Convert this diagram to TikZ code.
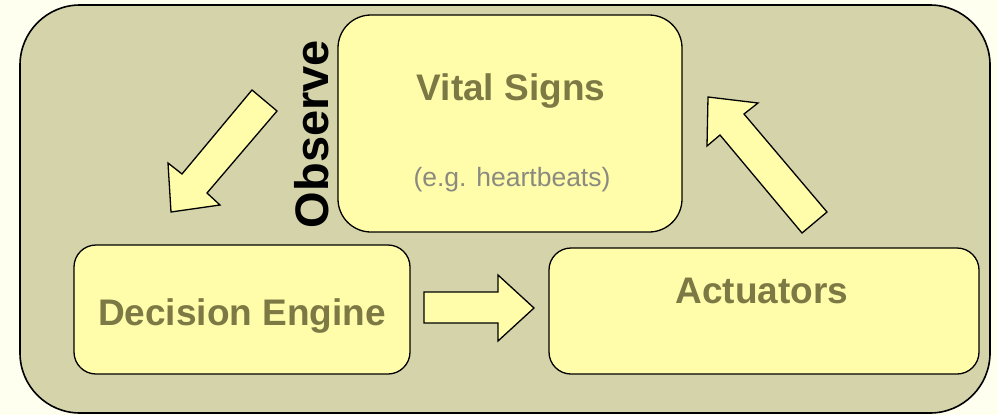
\documentclass[tikz,border=0pt]{standalone}
\usepackage{fontspec}
\setmainfont{Liberation Sans}
\begin{document}
\begin{tikzpicture}[x=1pt,y=-1pt,
  panel/.style={draw=black, line width=1.6pt, fill=panelfill, rounded corners=60pt},
  card/.style={draw=black, line width=1.3pt, fill=cardfill, inner sep=0pt},
  title/.style={anchor=base, text=titlecol, font=\fontsize{37}{41}\selectfont\bfseries, inner sep=0pt},
  note/.style={anchor=base, text=notecol, font=\fontsize{26.5}{30}\selectfont, inner sep=0pt},
  blockarrow/.style={draw=black, line width=1.3pt, fill=cardfill, line join=miter}]
\definecolor{pagebg}{HTML}{FFFFF0}
\definecolor{panelfill}{HTML}{D4D3A9}
\definecolor{cardfill}{HTML}{FFFDAA}
\definecolor{titlecol}{HTML}{7C7945}
\definecolor{notecol}{HTML}{8A8A80}

% page and outer panel
\fill[pagebg] (0,0) rectangle (998,415);
\useasboundingbox (0,0) rectangle (998,415);
\draw[panel] (20,5) rectangle (990,413);

% boxes
\node[card, rounded corners=33pt, minimum width=344pt, minimum height=217pt] (vital) at (510,123.5) {};
\node[card, rounded corners=22pt, minimum width=336pt, minimum height=129pt] (decision) at (242,309.5) {};
\node[card, rounded corners=22pt, minimum width=430pt, minimum height=126pt] (actuators) at (764,311) {};

% box texts
\node[title] (vitalT) at (511,100) {Vital Signs};
\node[note] (vitalN) at (512,186) {(e.g. heartbeats)};
\node[title] (decisionT) at (242,325) {Decision Engine};
\node[title] (actuatorsT) at (762,303) {Actuators};

% side label
\node[anchor=base, rotate=90, inner sep=0pt, font=\fontsize{47}{51}\selectfont\bfseries] (observe) at (328,134) {Observe};

% block arrows
\draw[blockarrow] (252,90) -- (277,111) -- (207,193) -- (220,205) -- (171,212)
  -- (168,163) -- (182,174) -- cycle;
\draw[blockarrow] (424,292) -- (498,292) -- (498,275) -- (534,308) -- (498,341)
  -- (498,323) -- (424,323) -- cycle;
\draw[blockarrow] (827,212) -- (802,233) -- (720,135) -- (707,146) -- (708,97)
  -- (758,103) -- (744,114) -- cycle;
\end{tikzpicture}
\end{document}
